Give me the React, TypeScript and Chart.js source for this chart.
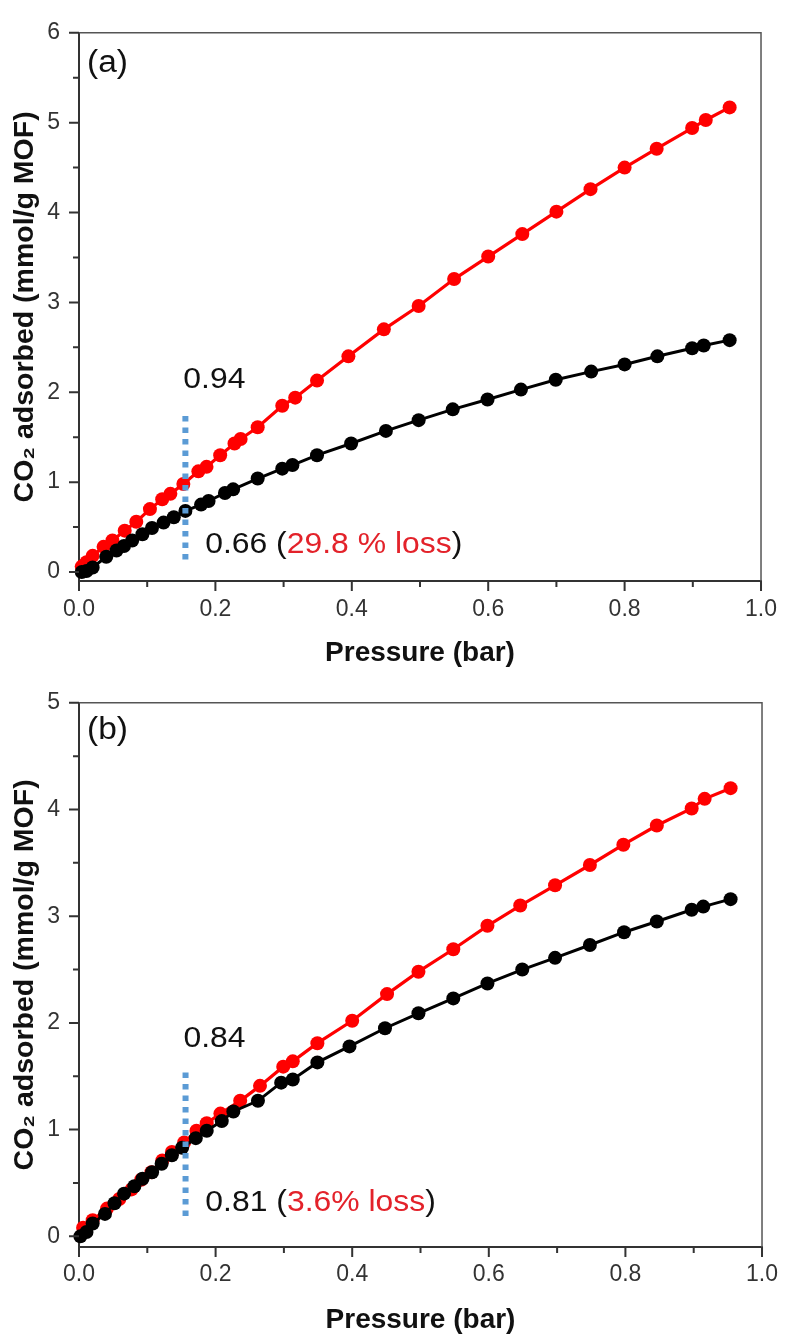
import React, { useEffect, useRef } from "react";
import { Chart, registerables } from "chart.js";

Chart.register(...registerables);

// ---------- data: panel (a) ----------
const aFreshP = [0.004, 0.011, 0.020, 0.036, 0.049, 0.067, 0.084, 0.104, 0.122, 0.134, 0.153, 0.175, 0.187, 0.207, 0.228, 0.237, 0.262, 0.298, 0.317, 0.349, 0.395, 0.447, 0.498, 0.550, 0.600, 0.650, 0.700, 0.750, 0.800, 0.847, 0.899, 0.919, 0.954];
const aFreshQ = [0.06, 0.11, 0.18, 0.28, 0.35, 0.46, 0.56, 0.70, 0.81, 0.87, 0.98, 1.12, 1.17, 1.30, 1.43, 1.48, 1.61, 1.85, 1.94, 2.13, 2.40, 2.70, 2.96, 3.26, 3.51, 3.76, 4.01, 4.26, 4.50, 4.71, 4.94, 5.03, 5.17];
const aAgedP = [0.004, 0.011, 0.020, 0.040, 0.055, 0.066, 0.078, 0.093, 0.107, 0.124, 0.139, 0.156, 0.179, 0.190, 0.214, 0.226, 0.262, 0.298, 0.313, 0.349, 0.399, 0.450, 0.498, 0.548, 0.599, 0.648, 0.699, 0.751, 0.800, 0.848, 0.899, 0.916, 0.954];
const aAgedQ = [0.00, 0.01, 0.05, 0.17, 0.24, 0.29, 0.35, 0.42, 0.49, 0.55, 0.61, 0.68, 0.75, 0.79, 0.88, 0.92, 1.04, 1.15, 1.19, 1.30, 1.43, 1.57, 1.69, 1.81, 1.92, 2.03, 2.14, 2.23, 2.31, 2.40, 2.49, 2.52, 2.58];

// ---------- data: panel (b) ----------
const bFreshP = [0.006, 0.020, 0.041, 0.059, 0.077, 0.091, 0.106, 0.122, 0.136, 0.154, 0.172, 0.187, 0.207, 0.236, 0.265, 0.299, 0.313, 0.349, 0.400, 0.451, 0.497, 0.548, 0.598, 0.646, 0.697, 0.748, 0.797, 0.846, 0.897, 0.916, 0.954];
const bFreshQ = [0.08, 0.15, 0.26, 0.35, 0.44, 0.53, 0.60, 0.71, 0.79, 0.88, 0.99, 1.06, 1.15, 1.27, 1.41, 1.59, 1.64, 1.81, 2.02, 2.27, 2.48, 2.69, 2.91, 3.10, 3.29, 3.48, 3.67, 3.85, 4.01, 4.10, 4.20];
const bAgedP = [0.002, 0.011, 0.020, 0.038, 0.052, 0.066, 0.081, 0.093, 0.107, 0.121, 0.136, 0.151, 0.171, 0.187, 0.209, 0.226, 0.262, 0.296, 0.313, 0.349, 0.396, 0.448, 0.497, 0.548, 0.598, 0.649, 0.697, 0.748, 0.798, 0.846, 0.897, 0.914, 0.954];
const bAgedQ = [0.00, 0.04, 0.12, 0.21, 0.31, 0.40, 0.47, 0.54, 0.60, 0.68, 0.76, 0.83, 0.92, 0.99, 1.08, 1.17, 1.27, 1.44, 1.47, 1.63, 1.78, 1.95, 2.09, 2.23, 2.37, 2.50, 2.61, 2.73, 2.85, 2.95, 3.06, 3.09, 3.16];

// ---------- ticks ----------
const xMajorTicks = [0, 0.2, 0.4, 0.6, 0.8, 1.0];
const xMinorTicks = [0.1, 0.3, 0.5, 0.7, 0.9];
const yMajorTicksA = [0, 1, 2, 3, 4, 5, 6];
const yMinorTicksA = [0.5, 1.5, 2.5, 3.5, 4.5, 5.5];
const yMajorTicksB = [0, 1, 2, 3, 4, 5];
const yMinorTicksB = [0.5, 1.5, 2.5, 3.5, 4.5];

// ---------- annotations (values) ----------
const markerPressure = 0.156;
const aMarkerRange = [0.14, 1.75];
const bMarkerRange = [0.19, 1.56];
const aFreshText = "0.94";
const aAgedText = "0.66 (";
const aLossText = "29.8 % loss";
const bFreshText = "0.84";
const bAgedText = "0.81 (";
const bLossText = "3.6% loss";

const FONT = '"Liberation Sans", Arial, Helvetica, sans-serif';
const RED = "#ff0000";
const RED_TEXT = "#e3222a";

const toPts = (p: number[], q: number[]) => p.map((v, i) => ({ x: v, y: q[i] }));

type PanelCfg = {
  tag: string;
  tagDy: number;
  freshP: number[]; freshQ: number[];
  agedP: number[]; agedQ: number[];
  yMax: number; yMajor: number[]; yMinor: number[];
  markerRange: number[];
  upperText: string; upperAt: [number, number];
  lowerText: string; lossText: string; lowerAt: [number, number];
  padTop: number; padRight: number; xAxisH: number; xTitlePad: number; xTickPad: number;
};

function buildChart(canvas: HTMLCanvasElement, c: PanelCfg) {
  const decor = {
    id: "decor",
    afterDraw(chart: any) {
      const { ctx, chartArea, scales } = chart;
      const { left, right, top, bottom } = chartArea;
      const xs = scales.x, ys = scales.y;
      ctx.save();
      // frame top/right
      ctx.strokeStyle = "#555";
      ctx.lineWidth = 1.5;
      ctx.beginPath();
      ctx.moveTo(left, top);
      ctx.lineTo(right, top);
      ctx.lineTo(right, bottom);
      ctx.stroke();
      // tick marks
      ctx.strokeStyle = "#333";
      ctx.lineWidth = 2;
      ctx.beginPath();
      xMajorTicks.forEach((v) => { const px = xs.getPixelForValue(v); ctx.moveTo(px, bottom); ctx.lineTo(px, bottom + 10); });
      xMinorTicks.forEach((v) => { const px = xs.getPixelForValue(v); ctx.moveTo(px, bottom); ctx.lineTo(px, bottom + 6); });
      c.yMajor.forEach((v) => { const py = ys.getPixelForValue(v); ctx.moveTo(left, py); ctx.lineTo(left - 10, py); });
      c.yMinor.forEach((v) => { const py = ys.getPixelForValue(v); ctx.moveTo(left, py); ctx.lineTo(left - 6, py); });
      ctx.stroke();

      // panel tag
      ctx.textBaseline = "middle";
      ctx.textAlign = "left";
      ctx.fillStyle = "#111";
      ctx.font = `31px ${FONT}`;
      ctx.save();
      ctx.translate(left + 8, top + c.tagDy);
      ctx.scale(1.08, 1);
      ctx.fillText(c.tag, 0, 0);
      ctx.restore();

      // annotations
      ctx.font = `29px ${FONT}`;
      ctx.save();
      ctx.translate(xs.getPixelForValue(c.upperAt[0]), ys.getPixelForValue(c.upperAt[1]));
      ctx.scale(1.1, 1);
      ctx.fillStyle = "#111";
      ctx.fillText(c.upperText, 0, 0);
      ctx.restore();

      ctx.save();
      ctx.translate(xs.getPixelForValue(c.lowerAt[0]), ys.getPixelForValue(c.lowerAt[1]));
      ctx.scale(1.1, 1);
      let cx = 0;
      const parts = [
        { t: c.lowerText, col: "#111" },
        { t: c.lossText, col: RED_TEXT },
        { t: ")", col: "#111" },
      ];
      parts.forEach((p) => {
        ctx.fillStyle = p.col;
        ctx.fillText(p.t, cx, 0);
        cx += ctx.measureText(p.t).width;
      });
      ctx.restore();
      ctx.restore();
    },
  };

  return new Chart(canvas, {
    type: "scatter",
    data: {
      datasets: [
        {
          data: [
            { x: markerPressure, y: c.markerRange[0] },
            { x: markerPressure, y: c.markerRange[1] },
          ],
          showLine: true,
          borderColor: "#5b9bd5",
          borderWidth: 6,
          borderDash: [5.5, 6],
          borderCapStyle: "butt",
          pointRadius: 0,
          clip: false,
        },
        {
          data: toPts(c.agedP, c.agedQ),
          showLine: true,
          borderColor: "#000",
          backgroundColor: "#000",
          borderWidth: 3,
          pointRadius: 7,
          pointBorderWidth: 0,
          tension: 0,
          clip: false,
        },
        {
          data: toPts(c.freshP, c.freshQ),
          showLine: true,
          borderColor: RED,
          backgroundColor: RED,
          borderWidth: 3.2,
          pointRadius: 7,
          pointBorderWidth: 0,
          tension: 0,
          clip: false,
        },
      ],
    } as any,
    options: {
      responsive: false,
      animation: false,
      devicePixelRatio: 1,
      events: [],
      layout: { padding: { top: c.padTop, right: c.padRight, left: 0, bottom: 0 } },
      plugins: { legend: { display: false }, tooltip: { enabled: false } },
      scales: {
        x: {
          type: "linear",
          min: 0,
          max: 1,
          grid: { display: false, drawTicks: false },
          border: { display: true, color: "#333", width: 2 },
          afterBuildTicks: (s: any) => { s.ticks = xMajorTicks.map((v) => ({ value: v })); },
          afterFit: (s: any) => { s.height = c.xAxisH; },
          ticks: {
            padding: c.xTickPad,
            color: "#333",
            font: { family: FONT, size: 23 },
            maxRotation: 0,
            autoSkip: false,
            callback: (v: any) => Number(v).toFixed(1),
          },
          title: {
            display: true,
            text: "Pressure (bar)",
            color: "#111",
            font: { family: FONT, size: 28, weight: "bold", lineHeight: 1 },
            padding: { top: 0, bottom: c.xTitlePad },
          },
        },
        y: {
          type: "linear",
          min: -0.1,
          max: c.yMax,
          grid: { display: false, drawTicks: false },
          border: { display: true, color: "#333", width: 2 },
          afterBuildTicks: (s: any) => { s.ticks = c.yMajor.map((v) => ({ value: v })); },
          afterFit: (s: any) => { s.width = 79; },
          ticks: {
            padding: 19,
            color: "#333",
            font: { family: FONT, size: 23 },
            autoSkip: false,
            callback: (v: any) => String(Math.round(Number(v))),
          },
          title: {
            display: true,
            text: "CO₂ adsorbed (mmol/g MOF)",
            color: "#111",
            font: { family: FONT, size: 28.5, weight: "bold", lineHeight: 1 },
            padding: { top: 11, bottom: 0 },
          },
        },
      },
    } as any,
    plugins: [decor],
  });
}

const panelA: PanelCfg = {
  tag: "(a)", tagDy: 31,
  freshP: aFreshP, freshQ: aFreshQ, agedP: aAgedP, agedQ: aAgedQ,
  yMax: 6, yMajor: yMajorTicksA, yMinor: yMinorTicksA,
  markerRange: aMarkerRange,
  upperText: aFreshText, upperAt: [0.153, 2.14],
  lowerText: aAgedText, lossText: aLossText, lowerAt: [0.185, 0.30],
  padTop: 25, padRight: 22, xAxisH: 89, xTitlePad: 3, xTickPad: 15,
};

const panelB: PanelCfg = {
  tag: "(b)", tagDy: 28,
  freshP: bFreshP, freshQ: bFreshQ, agedP: bAgedP, agedQ: bAgedQ,
  yMax: 5, yMajor: yMajorTicksB, yMinor: yMinorTicksB,
  markerRange: bMarkerRange,
  upperText: bFreshText, upperAt: [0.153, 1.85],
  lowerText: bAgedText, lossText: bLossText, lowerAt: [0.185, 0.31],
  padTop: 19, padRight: 23, xAxisH: 88, xTitlePad: 1, xTickPad: 14,
};

export default function App() {
  const refA = useRef<HTMLCanvasElement>(null);
  const refB = useRef<HTMLCanvasElement>(null);

  useEffect(() => {
    const ca = buildChart(refA.current!, panelA);
    const cb = buildChart(refB.current!, panelB);
    return () => {
      ca.destroy();
      cb.destroy();
    };
  }, []);

  return (
    <div style={{ position: "absolute", left: 0, top: 0, width: 792, height: 1335, background: "#fff", overflow: "hidden" }}>
      <canvas ref={refA} width={792} height={670} style={{ position: "absolute", left: 0, top: 0, display: "block" }} />
      <canvas ref={refB} width={792} height={665} style={{ position: "absolute", left: 0, top: 670, display: "block" }} />
    </div>
  );
}
